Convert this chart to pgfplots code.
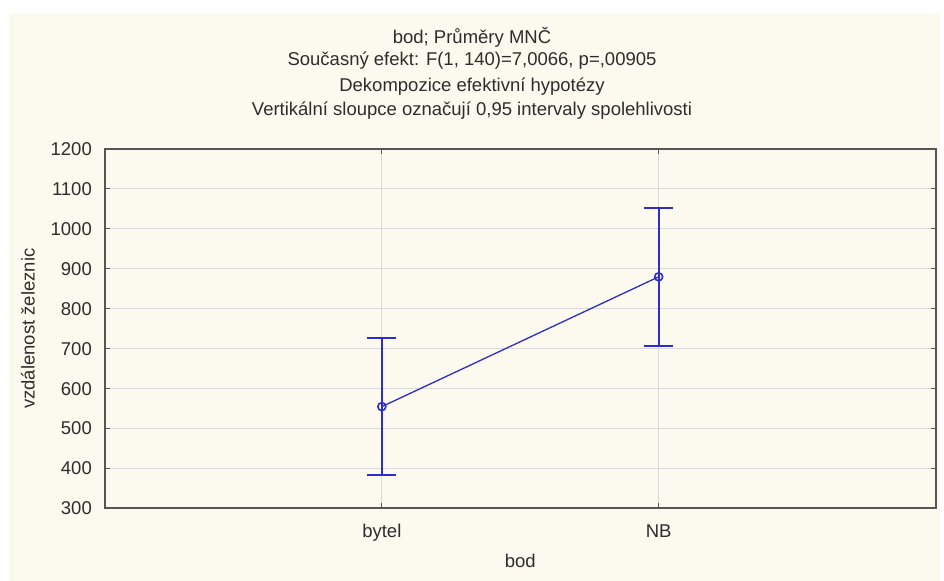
\documentclass[border=0pt]{standalone}
\usepackage{fontspec}
\setmainfont{Liberation Sans}
\usepackage{pgfplots}
\pgfplotsset{compat=1.18}
\definecolor{cream}{RGB}{252,249,238}
\definecolor{serblue}{RGB}{45,45,205}
\definecolor{gridc}{RGB}{218,218,218}
\definecolor{framec}{RGB}{85,85,85}
\definecolor{txt}{RGB}{45,45,45}
\begin{document}
\begin{tikzpicture}[x=1bp,y=1bp,every node/.style={font=\fontsize{18.5bp}{22bp}\selectfont, text=txt}]
\useasboundingbox (0,0) rectangle (944,581);
\fill[white] (0,0) rectangle (944,581);
\fill[cream] (9,0) rectangle (940,568);
\node at (472,544) {bod; Průměry MNČ};
\node at (472,520) {Současný efekt: F(1, 140)=7,0066, p=,00905};
\node at (472,494) {Dekompozice efektivní hypotézy};
\node at (472,470) {Vertikální sloupce označují 0,95 intervaly spolehlivosti};
\begin{axis}[
  at={(105bp,72.5bp)}, anchor=south west,
  scale only axis, width=830.5bp, height=359.5bp,
  xmin=-1, xmax=2, ymin=300, ymax=1200,
  xtick={0,1}, xticklabels={bytel,NB},
  ytick={300,400,...,1200},
  grid=major, major grid style={gridc, line width=1bp},
  axis line style={framec, line width=2bp},
  tick style={framec, line width=1bp},
  tick align=inside, major tick length=5bp,
  /pgf/number format/assume math mode=true,
  /pgf/number format/1000 sep={},
  ticklabel style={font=\fontsize{18.5bp}{22bp}\selectfont, text=txt},
  yticklabel style={anchor=east, inner sep=0pt, xshift=-13bp},
  xticklabel style={anchor=base, inner sep=0pt, yshift=-29bp},
  xlabel={bod}, ylabel={vzdálenost železnic},
  label style={font=\fontsize{18.5bp}{22bp}\selectfont, text=txt},
  xlabel style={at={(axis description cs:0.5,0)}, anchor=base, inner sep=0pt, yshift=-59.5bp},
  ylabel style={at={(axis description cs:-0.0927,0.5)}, anchor=center, inner sep=0pt},
]
\addplot[serblue, line width=1.3bp, mark=o, mark size=4bp,
  mark options={line width=1.6bp},
  error bars/.cd, y dir=both, y explicit,
  error bar style={line width=2bp, serblue},
  error mark options={rotate=90, serblue, line width=2bp, mark size=14.5bp}]
  coordinates {(0,555) +- (0,172) (1,880) +- (0,172)};
\end{axis}
\end{tikzpicture}
\end{document}
